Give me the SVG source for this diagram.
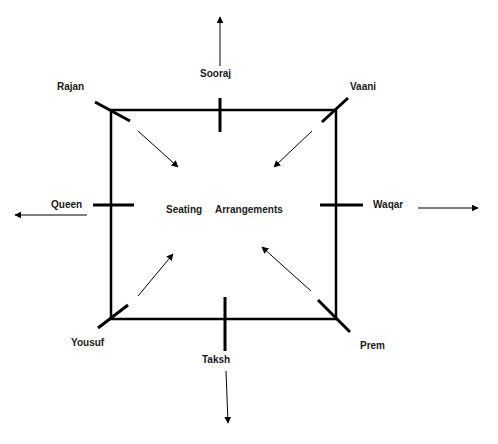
<svg xmlns="http://www.w3.org/2000/svg" width="498" height="444" viewBox="0 0 498 444">
<defs>
<marker id="ah" viewBox="0 0 10 10" refX="9" refY="5" markerWidth="7" markerHeight="7" markerUnits="userSpaceOnUse" orient="auto">
<path d="M0,0 L10,5 L0,10 Z" fill="#000"/>
</marker>
</defs>
<style>
.lbl{font-family:"Liberation Sans",Arial,sans-serif;font-weight:bold;font-size:10px;fill:#1a1a1a}
.seat{stroke:#000;stroke-width:3;fill:none}
.edge{stroke:#000;stroke-width:1;fill:none;marker-end:url(#ah)}
.table{stroke:#000;stroke-width:2.5;fill:none}
</style>
<rect width="498" height="444" fill="#fff"/>
<g id="table">
<rect class="table" x="111" y="110" width="225" height="209"/>
<text class="lbl" x="166" y="213">Seating</text>
<text class="lbl" x="215" y="213">Arrangements</text>
</g>
<g id="rajan">
<line class="seat" x1="95" y1="102" x2="130" y2="121"/>
<text class="lbl" x="57" y="90">Rajan</text>
</g>
<g id="sooraj">
<line class="seat" x1="220" y1="98" x2="220" y2="132"/>
<text class="lbl" x="200" y="77">Sooraj</text>
</g>
<g id="vaani">
<line class="seat" x1="348" y1="98" x2="322" y2="122"/>
<text class="lbl" x="350" y="90">Vaani</text>
</g>
<g id="queen">
<line class="seat" x1="93" y1="205" x2="134" y2="205"/>
<text class="lbl" x="51" y="208">Queen</text>
</g>
<g id="waqar">
<line class="seat" x1="320" y1="205" x2="363" y2="205"/>
<text class="lbl" x="373" y="208">Waqar</text>
</g>
<g id="yousuf">
<line class="seat" x1="98" y1="328" x2="128" y2="305"/>
<text class="lbl" x="71" y="346">Yousuf</text>
</g>
<g id="taksh">
<line class="seat" x1="225" y1="297" x2="225" y2="351"/>
<text class="lbl" x="202" y="363">Taksh</text>
</g>
<g id="prem">
<line class="seat" x1="318" y1="300" x2="350" y2="332"/>
<text class="lbl" x="360" y="349">Prem</text>
</g>
<g id="connectors">
<line class="edge" x1="220" y1="66" x2="220" y2="17"/>
<line class="edge" x1="138" y1="131" x2="178" y2="167"/>
<line class="edge" x1="312" y1="131" x2="274" y2="167"/>
<line class="edge" x1="87" y1="215" x2="15" y2="215"/>
<line class="edge" x1="418" y1="208" x2="478" y2="208"/>
<line class="edge" x1="138" y1="296" x2="173" y2="254"/>
<line class="edge" x1="226" y1="371" x2="228" y2="423"/>
<line class="edge" x1="311" y1="291" x2="262" y2="247"/>
</g>
</svg>
